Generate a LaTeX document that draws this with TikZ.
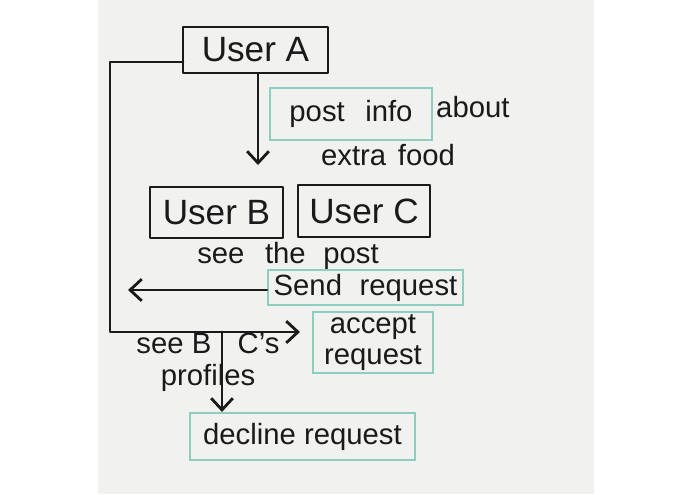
\documentclass[tikz,border=0pt]{standalone}
\usepackage{fontspec}
\setmainfont{Liberation Sans}
\usetikzlibrary{arrows.meta,calc}
\definecolor{board}{HTML}{F1F1EF}
\definecolor{marker}{HTML}{1A1A1A}
\definecolor{hl}{HTML}{8CCFC0}
\tikzset{
  ink/.style={draw=marker, line width=2.4pt, line cap=round, line join=round},
  userbox/.style={ink, inner sep=0pt, font=\fontsize{30}{32}\selectfont, text=marker},
  hlbox/.style={draw=hl, line width=1.8pt, inner sep=0pt, font=\fontsize{25}{27}\selectfont, text=marker, align=center},
  note/.style={inner sep=0pt, font=\fontsize{25}{27}\selectfont, text=marker, align=center},
  arr/.style={ink, -{Straight Barb[length=3.5mm,width=6.5mm,line width=2.4pt]}},
}
\begin{document}
\begin{tikzpicture}[x=0.03cm,y=-0.03cm]
\useasboundingbox (0,0) rectangle (695,494);
\fill[white] (0,0) rectangle (695,494);
\fill[board] (98,0) rectangle (594,494);

% boxes
\node[userbox, minimum width=4.35cm, minimum height=1.38cm] (A) at (255.5,50) {User A};
\node[userbox, minimum width=3.99cm, minimum height=1.53cm] (B) at (216.5,212.5) {User B};
\node[userbox, minimum width=3.96cm, minimum height=1.56cm] (C) at (364,211) {User C};

\node[hlbox, minimum width=4.86cm, minimum height=1.56cm] (post) at (351,114) {post\hspace{0.7em}info};
\node[note, anchor=west] (about) at (436,107) {about};
\node[note] (food) at (388,155) {extra\hspace{0.4em}food};

\node[note] (seepost) at (288,256) {see\hspace{0.7em}the\hspace{0.6em}post};
\node[hlbox, minimum width=5.85cm, minimum height=1.05cm] (send) at (365.5,287.5) {Send\hspace{0.6em}request};
\node[hlbox, minimum width=3.6cm, minimum height=1.83cm] (accept) at (373,342.5) {accept\\request};
\node[hlbox, minimum width=6.75cm, minimum height=1.41cm] (decline) at (302.5,436.5) {decline request};
\node[note] (profiles) at (208,362) {see B\hspace{0.9em}C's\\profiles};

% connectors
\coordinate (postEnd) at (258,165);
\draw[arr] (A.south -| postEnd) -- (postEnd);

\coordinate (aOut) at (183,62);
\coordinate (loopCorner) at (110,332);
\coordinate (acceptEnd) at (300,332);
\draw[arr] (aOut) -| (loopCorner) -- (acceptEnd);

\coordinate (sendEnd) at (128,290);
\draw[arr] (send.west |- sendEnd) -- (sendEnd);

\coordinate (junction) at (222,332);
\draw[arr] (junction) -- (junction |- decline.north);
\end{tikzpicture}
\end{document}
